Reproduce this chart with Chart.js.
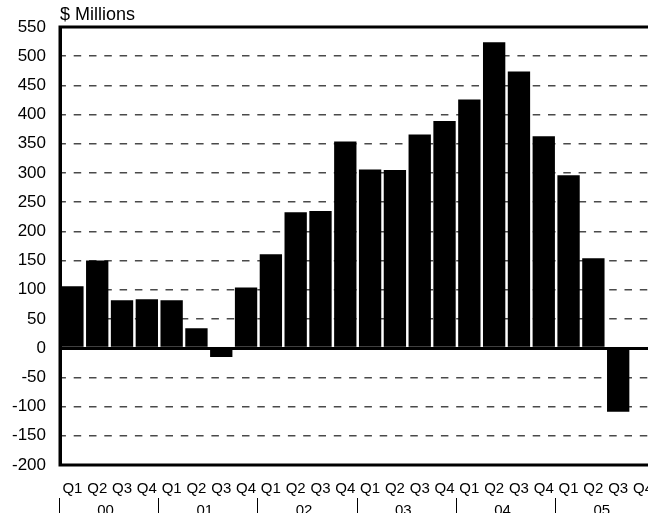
<!DOCTYPE html>
<html>
<head>
<meta charset="utf-8">
<script src="https://cdn.jsdelivr.net/npm/chart.js@4/dist/chart.umd.min.js"></script>
<style>
html, body { margin: 0; padding: 0; overflow: hidden; background: #fff; }
#wrap { width: 668px; height: 520px; }
</style>
</head>
<body>
<div id="wrap"><canvas id="myChart" width="668" height="520"></canvas></div>
<script>
// data
const quarters = ['Q1', 'Q2', 'Q3', 'Q4'];
const years = ['00', '01', '02', '03', '04', '05'];
const labels = years.flatMap(() => quarters);
const values = [106, 150, 82, 84, 82, 34, -15, 104, 161, 233, 235, 354,
                306, 305, 366, 389, 426, 524, 474, 363, 296, 154, -109, null];
const yMin = -200, yMax = 550, yStep = 50;
const unitLabel = '$ Millions';

const FONT = '"Liberation Sans", Arial, sans-serif';

// frame, unit label, year groups under the quarter labels
const extras = {
    id: 'extras',
    afterDraw(chart) {
        const c = chart.ctx;
        const a = chart.chartArea;
        const x = chart.scales.x;
        c.save();
        c.strokeStyle = '#000';
        c.lineWidth = 3;
        c.strokeRect(a.left, a.top, a.right - a.left, a.bottom - a.top);

        c.fillStyle = '#000';
        c.font = '18px ' + FONT;
        c.textAlign = 'left';
        c.textBaseline = 'alphabetic';
        c.fillText(unitLabel, a.left, 20);

        c.font = '15px ' + FONT;
        c.textAlign = 'center';
        c.lineWidth = 1;
        const half = (x.getPixelForValue(1) - x.getPixelForValue(0)) / 2;
        years.forEach((yr, i) => {
            const start = x.getPixelForValue(i * 4) - half;
            const end = x.getPixelForValue(i * 4 + 3) + half;
            c.beginPath();
            c.moveTo(Math.round(start) - 0.5, 498);
            c.lineTo(Math.round(start) - 0.5, 520);
            c.stroke();
            c.fillText(yr, (start + end) / 2 - 4, 515);
        });
        c.restore();
    }
};

const ctx = document.getElementById('myChart').getContext('2d');
const myChart = new Chart(ctx, {
    type: 'bar',
    data: {
        labels: labels,
        datasets: [{
            data: values,
            backgroundColor: '#000',
            borderWidth: 0,
            barPercentage: 0.9,
            categoryPercentage: 1.0
        }]
    },
    options: {
        responsive: false,
        animation: false,
        layout: {
            padding: { top: 27, right: 0, left: 0, bottom: 0 }
        },
        plugins: {
            legend: { display: false },
            tooltip: { enabled: false }
        },
        scales: {
            x: {
                grid: { display: false, drawTicks: false },
                border: { display: false },
                ticks: {
                    color: '#000',
                    font: { family: FONT, size: 15 },
                    maxRotation: 0,
                    autoSkip: false,
                    padding: 15
                },
                afterFit(scale) { scale.height = 55; }
            },
            y: {
                min: yMin,
                max: yMax,
                grid: {
                    drawTicks: false,
                    color: (c) => c.tick.value === 0 ? '#000' : '#4a4a4a',
                    lineWidth: (c) => c.tick.value === 0 ? 3 : 1.5
                },
                border: {
                    display: true,
                    color: '#000',
                    width: 3,
                    dash: (c) => c.tick && c.tick.value === 0 ? [] : [7.5, 7.8],
                    dashOffset: 3.6
                },
                ticks: {
                    stepSize: yStep,
                    color: '#000',
                    font: { family: FONT, size: 17 },
                    padding: 14
                },
                afterFit(scale) { scale.width = 60; }
            }
        }
    },
    plugins: [extras]
});
</script>
</body>
</html>
